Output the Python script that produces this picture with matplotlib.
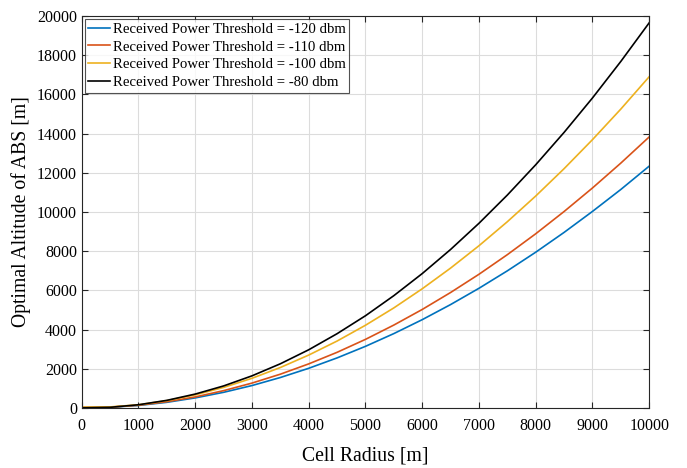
import numpy as np
import matplotlib
matplotlib.use("Agg")
import matplotlib.pyplot as plt

plt.rcParams['font.family'] = ['Liberation Serif', 'DejaVu Serif']
plt.rcParams['mathtext.fontset'] = 'stix'

# cell radius [m]
radius = [0, 500, 1000, 1500, 2000, 2500, 3000, 3500, 4000, 4500, 5000,
          5500, 6000, 6500, 7000, 7500, 8000, 8500, 9000, 9500, 10000]

# optimal altitude [m] for each received power threshold
alt_120 = [30, 45, 135, 295, 520, 805, 1150, 1560, 2030, 2560, 3150,
           3800, 4510, 5280, 6110, 7000, 7950, 8960, 10030, 11150, 12340]
alt_110 = [35, 50, 145, 325, 570, 890, 1275, 1730, 2255, 2845, 3505,
           4235, 5030, 5895, 6825, 7825, 8890, 10025, 11225, 12495, 13830]
alt_100 = [45, 60, 170, 380, 675, 1055, 1520, 2070, 2705, 3420, 4225,
           5110, 6085, 7140, 8280, 9505, 10815, 12210, 13690, 15250, 16900]
alt_80 = [10, 40, 170, 395, 715, 1130, 1645, 2260, 2975, 3795, 4710,
          5735, 6860, 8090, 9425, 10865, 12410, 14060, 15815, 17680, 19650]

labels = ['Received Power Threshold = -120 dbm',
          'Received Power Threshold = -110 dbm',
          'Received Power Threshold = -100 dbm',
          'Received Power Threshold = -80 dbm']
colors = ['#0072BD', '#D95319', '#EDB120', '#000000']

fig = plt.figure(figsize=(6.87, 4.68), dpi=100)
ax = fig.add_axes([0.119, 0.128, 0.826, 0.838])

for y, lab, c in zip([alt_120, alt_110, alt_100, alt_80], labels, colors):
    ax.plot(radius, y, color=c, lw=1.2, label=lab)

ax.set_xlim(0, 10000)
ax.set_ylim(0, 20000)
ax.set_xticks(np.arange(0, 10001, 1000))
ax.set_yticks(np.arange(0, 20001, 2000))
ax.grid(True, color='#dcdcdc', lw=0.8)
ax.set_axisbelow(True)
ax.tick_params(direction='in', top=True, right=True, labelsize=11.5,
               length=4, width=0.8, colors='#262626', labelcolor='black')
ax.tick_params(axis='x', pad=7)
for s in ax.spines.values():
    s.set_color('#262626')
    s.set_linewidth(0.8)

ax.set_xlabel('Cell Radius [m]', fontsize=14.2, labelpad=9)
ax.set_ylabel('Optimal Altitude of ABS [m]', fontsize=14.2, labelpad=4)

leg = ax.legend(loc='upper left', fontsize=10.6, frameon=True, fancybox=False,
                edgecolor='#262626', handlelength=1.5, handletextpad=0.15,
                borderaxespad=0.2, borderpad=0.25, labelspacing=0.3)
leg.get_frame().set_linewidth(0.8)

fig.savefig('out.png', dpi=100)
